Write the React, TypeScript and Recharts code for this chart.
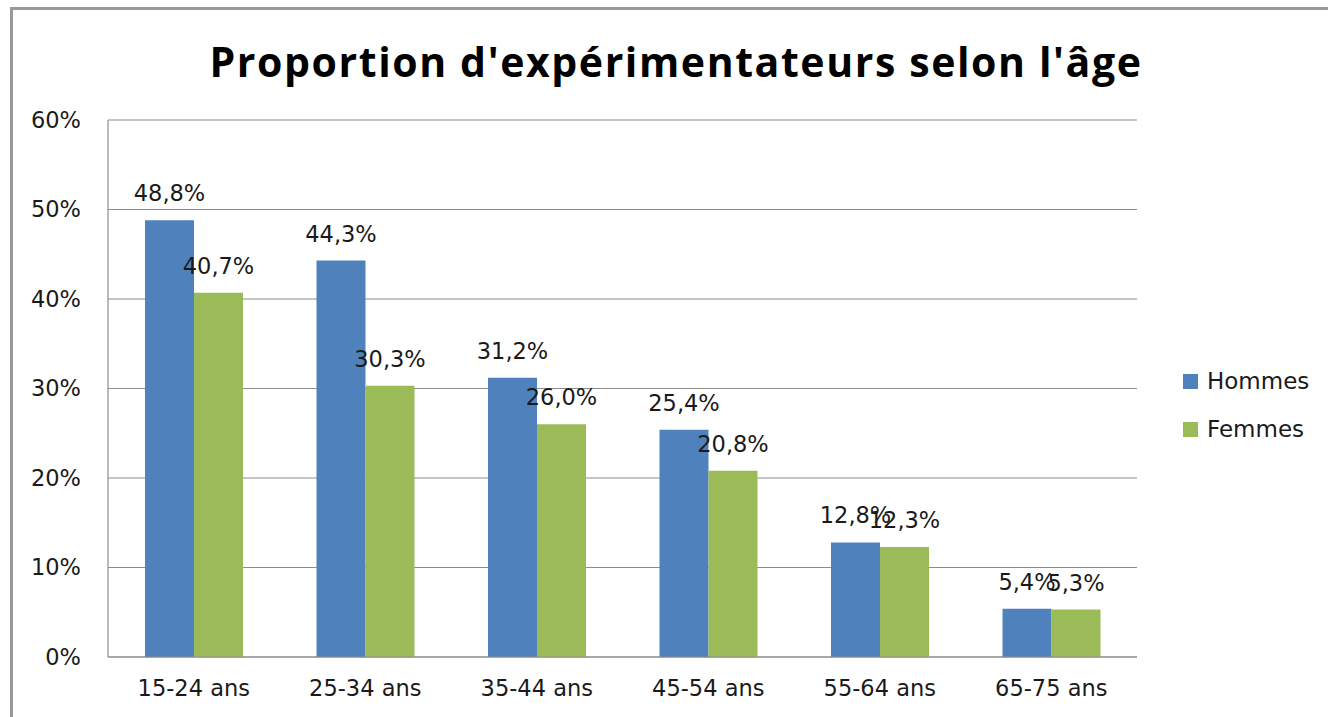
import React from 'react';
import { BarChart, Bar, XAxis, YAxis, CartesianGrid, LabelList } from 'recharts';

const categories = ['15-24 ans', '25-34 ans', '35-44 ans', '45-54 ans', '55-64 ans', '65-75 ans'];
const hommes = [48.8, 44.3, 31.2, 25.4, 12.8, 5.4];
const femmes = [40.7, 30.3, 26.0, 20.8, 12.3, 5.3];
const yTicks = [0, 10, 20, 30, 40, 50, 60];

const data = categories.map((name, i) => ({ name, hommes: hommes[i], femmes: femmes[i] }));

const FONT = '"DejaVu Sans", sans-serif';
const BLUE = '#4F81BD';
const GREEN = '#9BBB59';

const pct = (v: any) => `${Number(v).toFixed(1).replace('.', ',')}%`;

function LegendBox() {
    const items = [
        { label: 'Hommes', color: BLUE },
        { label: 'Femmes', color: GREEN },
    ];
    return (
        <div style={{ fontFamily: FONT, fontSize: 23, color: '#1a1a1a' }}>
            {items.map((it) => (
                <div key={it.label} style={{ display: 'flex', alignItems: 'center', height: 48 }}>
                    <span style={{ width: 15, height: 15, background: it.color, marginRight: 9 }} />
                    {it.label}
                </div>
            ))}
        </div>
    );
}

export default function App() {
    return (
        <div style={{ position: 'fixed', left: 0, top: 0, width: 1328, height: 717, background: '#fff', overflow: 'hidden' }}>
            <div
                style={{
                    position: 'absolute',
                    left: 10,
                    top: 7,
                    width: 1400,
                    height: 800,
                    borderTop: '3px solid #999',
                    borderLeft: '3px solid #999',
                }}
            />
            <div
                style={{
                    position: 'absolute',
                    left: 0,
                    width: 1328,
                    top: 33,
                    textAlign: 'center',
                    fontFamily: '"Open Sans", sans-serif',
                    fontWeight: 700,
                    fontSize: 41,
                    letterSpacing: 1.6,
                    paddingLeft: 24,
                    color: '#000',
                    boxSizing: 'border-box',
                }}
            >
                Proportion d'expérimentateurs selon l'âge
            </div>
            <div style={{ position: 'absolute', left: 0, top: 0 }}>
                <BarChart
                    width={1328}
                    height={717}
                    data={data}
                    margin={{ top: 120, right: 191, bottom: 0, left: 28 }}
                    barGap={0}
                    barSize={49}
                >
                    <CartesianGrid vertical={false} stroke="#8c8c8c" strokeWidth={1.2} />
                    <XAxis
                        dataKey="name"
                        axisLine={{ stroke: '#8c8c8c', strokeWidth: 1.2 }}
                        tickLine={false}
                        tickSize={0}
                        tickMargin={23}
                        height={60}
                        tick={{ fontFamily: FONT, fontSize: 22.5, fill: '#1a1a1a' }}
                    />
                    <YAxis
                        domain={[0, 60]}
                        ticks={yTicks}
                        width={80}
                        tickFormatter={(v) => `${v}%`}
                        axisLine={{ stroke: '#8c8c8c', strokeWidth: 1.2 }}
                        tickLine={false}
                        tickSize={0}
                        tickMargin={27}
                        tick={{ fontFamily: FONT, fontSize: 22.5, fill: '#1a1a1a' }}
                    />
                    <Bar dataKey="hommes" name="Hommes" fill={BLUE} isAnimationActive={false}>
                        <LabelList
                            dataKey="hommes"
                            position="top"
                            offset={19}
                            formatter={pct}
                            style={{ fontFamily: FONT, fontSize: 22.5, fill: '#1a1a1a' }}
                        />
                    </Bar>
                    <Bar dataKey="femmes" name="Femmes" fill={GREEN} isAnimationActive={false}>
                        <LabelList
                            dataKey="femmes"
                            position="top"
                            offset={19}
                            formatter={pct}
                            style={{ fontFamily: FONT, fontSize: 22.5, fill: '#1a1a1a' }}
                        />
                    </Bar>
                </BarChart>
            </div>
            <div style={{ position: 'absolute', left: 1183, top: 357 }}>
                <LegendBox />
            </div>
        </div>
    );
}
